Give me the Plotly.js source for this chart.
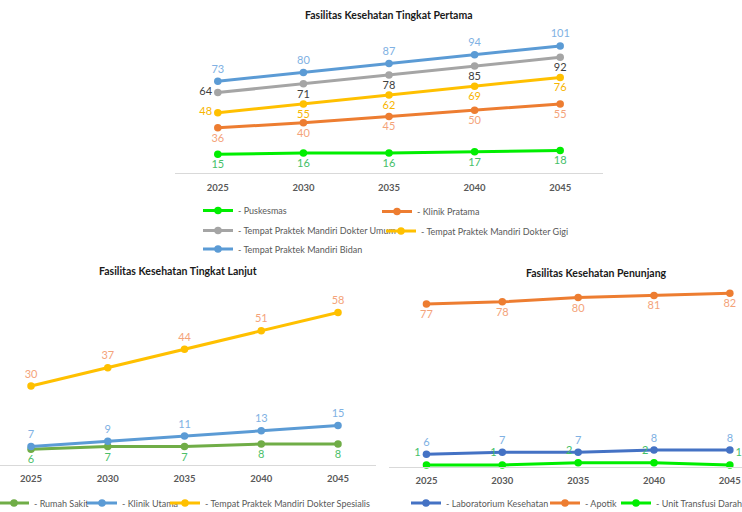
<!DOCTYPE html>
<html>
<head>
<meta charset="utf-8">
<script src="https://cdn.plot.ly/plotly-3.0.1.min.js"></script>
<style>html,body{margin:0;padding:0;background:#fff}#chart{width:742px;height:512px}</style>
</head>
<body>
<div id="chart"></div>
<script>
// ---- data ----
var years = ["2025", "2030", "2035", "2040", "2045"];

// Fasilitas Kesehatan Tingkat Pertama
var puskesmas = [15, 16, 16, 17, 18];
var klinikPratama = [36, 40, 45, 50, 55];
var dokterUmum = [64, 71, 78, 85, 92];
var dokterGigi = [48, 55, 62, 69, 76];
var bidan = [73, 80, 87, 94, 101];

// Fasilitas Kesehatan Tingkat Lanjut
var rumahSakit = [6, 7, 7, 8, 8];
var klinikUtama = [7, 9, 11, 13, 15];
var dokterSpesialis = [30, 37, 44, 51, 58];

// Fasilitas Kesehatan Penunjang
var laboratorium = [6, 7, 7, 8, 8];
var apotik = [77, 78, 80, 81, 82];
var transfusi = [1, 1, 2, 2, 1];

var titles = ["Fasilitas Kesehatan Tingkat Pertama", "Fasilitas Kesehatan Tingkat Lanjut", "Fasilitas Kesehatan Penunjang"];

// ---- helpers ----
var W = 742, H = 512;
var FONT = "Lato, 'Noto Sans', sans-serif";
function px(x) { return x / W; }
function py(y) { return 1 - y / H; }

function series(name, vals, xa, ya, lineColor, labelColor, pos, legendId) {
  return {
    type: "scatter", mode: "lines+markers+text",
    x: years, y: vals, xaxis: xa, yaxis: ya,
    name: name, legend: legendId,
    text: vals.map(String), textposition: pos,
    textfont: {family: FONT, size: 11, color: labelColor},
    line: {color: lineColor, width: 3},
    marker: {color: lineColor, size: 7.5},
    cliponaxis: false, hoverinfo: "skip"
  };
}

var data = [
  series("- Puskesmas", puskesmas, "x", "y", "#00ee00", "#45c068", "bottom center", "legend"),
  series("- Klinik Pratama", klinikPratama, "x", "y", "#ed7d31", "#f4a37a", "bottom center", "legend2"),
  series("- Tempat Praktek Mandiri Dokter Umum", dokterUmum, "x", "y", "#a5a5a5", "#404040",
         ["middle left", "bottom center", "bottom center", "bottom center", "bottom center"], "legend3"),
  series("- Tempat Praktek Mandiri Dokter Gigi", dokterGigi, "x", "y", "#ffc000", "#f7b500",
         ["middle left", "bottom center", "bottom center", "bottom center", "bottom center"], "legend4"),
  series("- Tempat Praktek Mandiri Bidan", bidan, "x", "y", "#5b9bd5", "#80b1e3", "top center", "legend5"),

  series("- Rumah Sakit", rumahSakit, "x2", "y2", "#70ad47", "#4cbf6a", "bottom center", "legend6"),
  series("- Klinik Utama", klinikUtama, "x2", "y2", "#5b9bd5", "#80b1e3", "top center", "legend7"),
  series("- Tempat Praktek Mandiri Dokter Spesialis", dokterSpesialis, "x2", "y2", "#ffc000", "#f4a37a", "top center", "legend8"),

  series("- Laboratorium Kesehatan", laboratorium, "x3", "y3", "#4472c4", "#80b1e3", "top center", "legend9"),
  series("- Apotik", apotik, "x3", "y3", "#ed7d31", "#f4a37a", "bottom center", "legend10"),
  series("- Unit Transfusi Darah", transfusi, "x3", "y3", "#00ee00", "#45c068",
         ["top left", "top left", "top left", "top left", "top right"], "legend11")
];

// legend placed so that its text starts at textStart (px)
function legendAt(textStart, yc) {
  return {
    x: px(textStart - 40), y: py(yc), xanchor: "left", yanchor: "middle",
    bgcolor: "rgba(0,0,0,0)", borderwidth: 0, itemwidth: 30,
    font: {family: FONT, size: 9, color: "#595959"}
  };
}

function xax(domain, anchor, range) {
  return {
    domain: domain, anchor: anchor, type: "category", range: range,
    showline: true, linecolor: "#d9d9d9", linewidth: 1,
    showgrid: false, zeroline: false, ticks: "", ticklabelstandoff: 5,
    tickfont: {family: FONT, size: 9.5, color: "#595959", weight: "bold"},
    fixedrange: true
  };
}
function yax(domain, anchor, range) {
  return {domain: domain, anchor: anchor, range: range, visible: false, fixedrange: true};
}

function titleAnn(text, xc, yc) {
  return {
    text: text, xref: "paper", yref: "paper", x: px(xc), y: py(yc),
    xanchor: "center", yanchor: "middle", showarrow: false,
    font: {family: FONT, size: 10.5, color: "#1a1a1a", weight: "bold"}
  };
}

var layout = {
  width: W, height: H,
  margin: {l: 0, r: 0, t: 0, b: 0, autoexpand: false},
  paper_bgcolor: "#ffffff", plot_bgcolor: "rgba(0,0,0,0)",
  font: {family: FONT},
  showlegend: true,
  xaxis: xax([px(175), px(603)], "y", [-0.5, 4.5]),
  yaxis: yax([py(173.2), py(28.3)], "x", [0, 115]),
  xaxis2: xax([0, px(376)], "y2", [-0.404, 4.495]),
  yaxis2: yax([py(465), py(294)], "x2", [0, 65]),
  xaxis3: xax([px(388.5), 1], "y3", [-0.5, 4.16]),
  yaxis3: yax([py(467), py(287)], "x3", [0, 85]),
  legend: legendAt(238, 210.5),
  legend2: legendAt(417, 211.5),
  legend3: legendAt(238, 230.5),
  legend4: legendAt(421, 231),
  legend5: legendAt(238, 249),
  legend6: legendAt(34, 503),
  legend7: legendAt(122, 503),
  legend8: legendAt(205, 503),
  legend9: legendAt(446, 503),
  legend10: legendAt(585, 503),
  legend11: legendAt(656, 503),
  annotations: [
    titleAnn(titles[0], 389, 15),
    titleAnn(titles[1], 177.5, 271),
    titleAnn(titles[2], 596, 273)
  ]
};

Plotly.newPlot("chart", data, layout, {staticPlot: true, displayModeBar: false});
</script>
</body>
</html>
